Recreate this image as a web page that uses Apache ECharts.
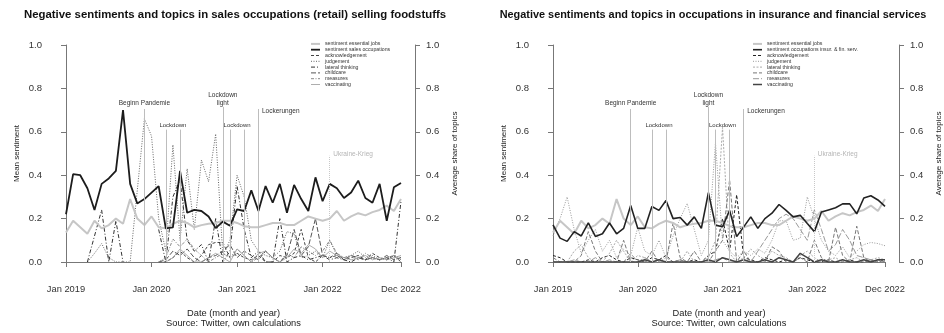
<!DOCTYPE html>
<html>
<head>
<meta charset="utf-8">
<script src="https://cdn.jsdelivr.net/npm/echarts@6/dist/echarts.min.js"></script>
<style>
html, body { margin: 0; padding: 0; background: #fff; }
#chart { width: 944px; height: 333px; }
</style>
</head>
<body>
<div id="chart"></div>
<script>
// Monthly observations, January 2019 to December 2022 (index 0 = Jan 2019)
const months = [
  '2019-01','2019-02','2019-03','2019-04','2019-05','2019-06','2019-07','2019-08','2019-09','2019-10','2019-11','2019-12',
  '2020-01','2020-02','2020-03','2020-04','2020-05','2020-06','2020-07','2020-08','2020-09','2020-10','2020-11','2020-12',
  '2021-01','2021-02','2021-03','2021-04','2021-05','2021-06','2021-07','2021-08','2021-09','2021-10','2021-11','2021-12',
  '2022-01','2022-02','2022-03','2022-04','2022-05','2022-06','2022-07','2022-08','2022-09','2022-10','2022-11','2022-12'
];
const tickMonths = [0, 12, 24, 36, 47];
const tickLabels = ['Jan 2019', 'Jan 2020', 'Jan 2021', 'Jan 2022', 'Dec 2022'];

// Mean sentiment of all essential jobs (shown in both panels)
const essentialJobs = [
  0.136,0.19,0.16,0.13,0.19,0.155,0.17,0.2,0.176,0.29,0.2,0.17,
  0.21,0.16,0.155,0.176,0.19,0.18,0.16,0.17,0.176,0.18,0.19,0.19,
  0.18,0.165,0.16,0.16,0.17,0.18,0.18,0.17,0.17,0.19,0.21,0.2,
  0.19,0.2,0.235,0.19,0.21,0.225,0.215,0.23,0.24,0.26,0.235,0.29
];

// Panel 1: sales occupations (retail) selling foodstuffs
const salesSentiment = [
  0.22,0.405,0.40,0.34,0.24,0.36,0.385,0.42,0.70,0.36,0.27,0.29,
  0.32,0.35,0.155,0.16,0.42,0.227,0.24,0.235,0.21,0.156,0.186,0.167,
  0.242,0.235,0.33,0.235,0.35,0.273,0.36,0.227,0.355,0.29,0.235,0.39,
  0.28,0.36,0.34,0.295,0.32,0.375,0.295,0.273,0.36,0.19,0.344,0.364
];
const salesAcknowledgement = [
  null,null,null,null,null,null,null,null,null,null,null,null,
  null,0.0,0.0,0.02,0.05,0.02,0.0,0.03,0.08,0.09,0.09,0.02,
  0.04,0.02,0.01,0.03,0.0,0.0,0.03,0.02,0.04,0.15,0.02,0.0,
  0.03,0.02,0.03,0.01,0.02,0.03,0.01,0.04,0.02,0.01,0.03,0.0
];
const salesJudgement = [
  null,null,null,0.0,0.04,0.085,0.02,0.0,0.0,0.0,0.33,0.66,
  0.58,0.2,0.05,0.54,0.1,0.43,0.15,0.47,0.37,0.59,0.03,0.1,
  0.4,0.3,0.1,0.05,0.03,0.02,0.05,0.14,0.13,0.02,0.03,0.05,
  0.02,0.1,0.03,0.02,0.03,0.05,0.02,0.03,0.01,0.02,0.03,0.02
];
const salesLateral = [
  null,null,null,0.0,0.12,0.24,0.0,0.19,0.0,null,null,null,
  null,0.15,0.0,0.3,0.38,0.1,0.05,0.08,0.0,0.2,0.0,0.05,
  0.35,0.15,0.02,0.05,0.0,0.0,0.2,0.0,0.02,0.03,0.01,0.02,
  0.03,0.01,0.02,0.01,0.0,0.02,0.01,0.02,0.01,0.02,0.0,0.28
];
const salesChildcare = [
  null,null,null,null,null,null,null,null,null,null,null,null,
  null,0.0,0.01,0.05,0.03,0.06,0.02,0.0,0.02,0.03,0.05,0.08,
  0.02,0.05,0.03,0.01,0.05,0.02,0.0,0.03,0.15,0.03,0.07,0.2,
  0.03,0.02,0.04,0.01,0.03,0.02,0.01,0.02,0.01,0.03,0.01,0.02
];
const salesMeasures = [
  null,null,null,null,null,null,null,null,null,null,null,null,
  null,0.0,0.02,0.106,0.07,0.106,0.06,0.03,0.0,0.02,0.04,0.02,
  0.06,0.03,0.0,0.02,0.05,0.02,0.0,0.04,0.02,0.07,0.05,0.03,
  0.05,0.1,0.04,0.02,0.03,0.01,0.04,0.02,0.01,0.02,0.03,0.01
];
const salesVaccinating = [
  null,null,null,null,null,null,null,null,null,null,null,null,
  null,null,0.0,0.02,0.06,0.03,0.0,0.0,0.02,0.04,0.02,0.0,
  0.06,0.03,0.0,0.04,0.05,0.02,0.0,0.02,0.06,0.04,0.08,0.06,
  0.02,0.05,0.03,0.02,0.01,0.02,0.03,0.01,0.02,0.01,0.02,0.03
];

// Panel 2: occupations in insurance and financial services
const insurSentiment = [
  0.171,0.11,0.095,0.14,0.12,0.18,0.118,0.13,0.18,0.13,0.155,0.26,
  0.155,0.155,0.256,0.238,0.283,0.2,0.205,0.17,0.208,0.155,0.32,0.17,
  0.162,0.238,0.117,0.162,0.208,0.155,0.2,0.225,0.265,0.238,0.208,0.215,
  0.177,0.14,0.23,0.24,0.25,0.268,0.268,0.222,0.295,0.305,0.286,0.256
];
const insurAcknowledgement = [
  0.03,0.02,0.0,0.0,0.0,0.01,0.0,0.02,0.03,0.01,0.0,0.02,
  0.01,0.0,0.02,0.01,0.03,0.0,0.01,0.0,0.01,0.0,0.03,0.05,
  0.2,0.05,0.31,0.02,0.01,0.0,0.02,0.01,0.0,0.01,0.0,0.02,
  0.01,0.0,0.0,0.01,0.0,0.0,0.01,0.0,0.0,0.01,0.0,0.01
];
const insurJudgement = [
  0.12,0.2,0.3,0.15,0.04,0.1,0.15,0.05,0.1,0.02,0.06,0.03,
  0.16,0.05,0.03,0.1,0.02,0.12,0.2,0.27,0.15,0.03,0.1,0.55,
  0.1,0.05,0.02,0.05,0.03,0.06,0.04,0.1,0.19,0.19,0.1,0.11,
  0.3,0.2,0.1,0.05,0.03,0.07,0.02,0.05,0.08,0.09,0.085,0.075
];
const insurLateral = [
  0.0,0.0,0.0,0.05,0.08,0.02,0.0,0.0,0.04,0.1,0.05,0.0,
  0.03,0.02,0.0,0.0,0.02,0.0,0.0,0.05,0.0,0.0,0.02,0.1,
  0.62,0.04,0.0,0.02,0.06,0.03,0.01,0.05,0.03,0.02,0.0,0.03,
  0.05,0.02,0.0,0.01,0.02,0.0,0.01,0.02,0.0,0.01,0.02,0.01
];
const insurChildcare = [
  0.02,0.0,0.0,0.0,0.03,0.14,0.05,0.0,0.0,0.0,0.1,0.0,
  0.0,0.0,0.05,0.0,0.0,0.18,0.02,0.0,0.05,0.0,0.0,0.05,
  0.1,0.38,0.0,0.05,0.0,0.0,0.0,0.07,0.05,0.0,0.0,0.02,
  0.0,0.1,0.02,0.0,0.16,0.03,0.0,0.165,0.02,0.0,0.01,0.0
];
const insurMeasures = [
  0.0,0.0,0.0,0.01,0.0,0.0,0.02,0.0,0.01,0.0,0.0,0.04,
  0.0,0.02,0.0,0.0,0.0,0.0,0.01,0.0,0.0,0.0,0.0,0.01,
  0.02,0.0,0.0,0.0,0.0,0.05,0.1,0.15,0.2,0.22,0.2,0.15,
  0.1,0.24,0.15,0.05,0.08,0.15,0.1,0.03,0.02,0.01,0.0,0.0
];
const insurVaccinating = [
  0.0,0.0,0.0,0.0,0.0,0.0,0.0,0.0,0.0,0.0,0.0,0.0,
  0.0,0.01,0.0,0.01,0.0,0.0,0.0,0.0,0.0,0.0,0.01,0.0,
  0.02,0.01,0.0,0.01,0.0,0.0,0.01,0.0,0.02,0.01,0.0,0.04,
  0.02,0.0,0.01,0.0,0.0,0.01,0.0,0.0,0.01,0.0,0.01,0.01
];

// Events (month index) and their captions
const eventMonths = [11, 14, 16, 22, 23, 25, 27, 37];
const eventCaptions = ['Beginn Pandemie', 'Lockdown', 'Lockdown\nlight', 'Lockdown', 'Lockerungen', 'Ukraine-Krieg'];
const captionMonths = [11, 15, 22, 24, 27, 37];

const panelTitles = [
  'Negative sentiments and topics in sales occupations (retail) selling foodstuffs',
  'Negative sentiments and topics in occupations in insurance and financial services'
];
const topicNames = ['acknowledgement', 'judgement', 'lateral thinking', 'childcare', 'measures', 'vaccinating'];
const panelSeriesNames = [
  ['sentiment essential jobs', 'sentiment sales occupations'].concat(topicNames),
  ['sentiment essential jobs', 'sentiment occupations insur. & fin. serv.'].concat(topicNames)
];
const panelValues = [
  [essentialJobs, salesSentiment, salesAcknowledgement, salesJudgement, salesLateral, salesChildcare, salesMeasures, salesVaccinating],
  [essentialJobs, insurSentiment, insurAcknowledgement, insurJudgement, insurLateral, insurChildcare, insurMeasures, insurVaccinating]
];

// ---- styling ----
const FONT = '"Liberation Sans", Arial, sans-serif';
const AXIS = '#777';
const lineStyles = [
  [
    { color: '#c6c6c6', width: 2, type: 'solid' },
    { color: '#1c1c1c', width: 1.8, type: 'solid' },
    { color: '#444', width: 1, type: [3, 2] },
    { color: '#666', width: 1, type: [1, 1.5] },
    { color: '#333', width: 1, type: [4, 2, 1, 2] },
    { color: '#555', width: 1, type: [5, 2] },
    { color: '#888', width: 1, type: [3, 1.5, 1, 1.5] },
    { color: '#999', width: 0.8, type: 'solid' }
  ],
  [
    { color: '#c6c6c6', width: 2, type: 'solid' },
    { color: '#222', width: 1.6, type: 'solid' },
    { color: '#222', width: 1, type: [3, 2] },
    { color: '#9a9a9a', width: 1, type: [1, 1.5] },
    { color: '#aaa', width: 1, type: [2, 1.5] },
    { color: '#777', width: 1, type: [4, 2] },
    { color: '#999', width: 1, type: [6, 2] },
    { color: '#444', width: 1.5, type: 'solid' }
  ]
];
const gridBoxes = [
  { left: 66, right: 543, top: 45, bottom: 68 },
  { left: 553, right: 56, top: 45, bottom: 68 }
];
const titleCenters = [235, 713];
const titleSizes = [11.4, 10.9];
const legendLefts = [310, 752];
// heights (in data units) where event lines end and captions sit
const lineTops = [0.705, 0.61, 0.61, 0.715, 0.61, 0.61, 0.705, 0.49];
const captionLayout = [
  { y: 0.732, position: 'inside' },
  { y: 0.632, position: 'inside' },
  { y: 0.75, position: 'inside' },
  { y: 0.632, position: 'inside' },
  { y: 0.695, position: 'right' },
  { y: 0.495, position: 'right' }
];

const xAxes = [], yAxes = [], series = [], legends = [], graphics = [];

for (let p = 0; p < 2; p++) {
  xAxes.push({
    type: 'value', gridIndex: p, min: 0, max: 47, offset: 12,
    axisLine: { show: true, lineStyle: { color: AXIS, width: 1 } },
    axisTick: { show: true, length: 5, customValues: tickMonths, lineStyle: { color: AXIS } },
    axisLabel: {
      customValues: tickMonths, margin: 11, fontSize: 9.3, color: '#333', fontFamily: FONT,
      formatter: v => tickLabels[tickMonths.indexOf(v)]
    },
    splitLine: { show: false },
    name: 'Date (month and year)\nSource: Twitter, own calculations',
    nameLocation: 'middle', nameGap: 35,
    nameTextStyle: { fontSize: 9.3, lineHeight: 9.5, color: '#222', fontFamily: FONT }
  });
  const yCommon = {
    type: 'value', gridIndex: p, min: 0, max: 1, interval: 0.2, offset: 14,
    axisLine: { show: true, lineStyle: { color: AXIS, width: 1 } },
    axisTick: { show: true, length: 5, lineStyle: { color: AXIS } },
    splitLine: { show: false },
    nameLocation: 'middle', nameRotate: 90
  };
  yAxes.push(Object.assign({}, yCommon, {
    position: 'left',
    axisLabel: { formatter: v => v.toFixed(1), margin: 10, fontSize: 9.5, color: '#333', fontFamily: FONT },
    name: 'Mean sentiment', nameGap: 31,
    nameTextStyle: { fontSize: 8, color: '#222', fontFamily: FONT }
  }));
  yAxes.push(Object.assign({}, yCommon, {
    position: 'right',
    axisLabel: { formatter: v => v.toFixed(1), margin: 11, fontSize: 9.5, color: '#333', fontFamily: FONT },
    name: 'Average share of topics', nameGap: 36,
    nameTextStyle: { fontSize: 8, color: '#222', fontFamily: FONT }
  }));

  // event markers
  series.push({
    type: 'line', name: 'events', xAxisIndex: p, yAxisIndex: p * 2, data: [],
    silent: true, z: 1,
    markLine: {
      silent: true, symbol: ['none', 'none'], label: { show: false },
      lineStyle: { color: '#bdbdbd', width: 1, type: 'solid' },
      data: eventMonths.map((m, k) => {
        const seg = [{ coord: [m, 0] }, { coord: [m, lineTops[k]] }];
        if (m === 37) seg[0].lineStyle = { color: '#c8c8c8', type: [1, 1], width: 1 };
        return seg;
      })
    },
    markPoint: {
      silent: true, symbol: 'circle', symbolSize: 1,
      itemStyle: { color: 'rgba(0,0,0,0)' },
      label: { show: true, formatter: '{b}', fontSize: 6.5, lineHeight: 8, color: '#333', fontFamily: FONT },
      data: eventCaptions.map((c, k) => ({
        name: c,
        coord: [captionMonths[k], captionLayout[k].y],
        label: {
          position: captionLayout[k].position, distance: 3, align: captionLayout[k].position === 'right' ? 'left' : 'center',
          color: c === 'Ukraine-Krieg' ? '#b5b5b5' : '#333',
          fontSize: c === 'Lockdown' ? 6 : 6.5
        }
      }))
    }
  });

  const names = panelSeriesNames[p];
  panelValues[p].forEach((vals, k) => {
    series.push({
      type: 'line', name: names[k], xAxisIndex: p, yAxisIndex: k < 2 ? p * 2 : p * 2 + 1,
      data: vals.map((v, i) => [i, v]),
      symbol: 'none', connectNulls: false, silent: true,
      z: k < 2 ? 3 + k : 2,
      itemStyle: { color: lineStyles[p][k].color },
      lineStyle: lineStyles[p][k]
    });
  });

  legends.push({
    left: legendLefts[p], top: 41, orient: 'vertical',
    itemWidth: 9, itemHeight: 5.8, itemGap: 0, padding: 0,
    selectedMode: false,
    textStyle: { fontSize: 5.2, lineHeight: 5.8, color: '#333', fontFamily: FONT },
    data: names.map((n, k) => ({
      name: n,
      lineStyle: lineStyles[p][k],
      itemStyle: { color: 'rgba(0,0,0,0)', borderWidth: 0, opacity: 0 }
    }))
  });

  graphics.push({
    type: 'text', x: titleCenters[p], y: 15,
    style: {
      text: panelTitles[p], textAlign: 'center', textVerticalAlign: 'middle',
      fontSize: titleSizes[p], fontWeight: 'bold', fill: '#111', fontFamily: FONT
    }
  });
}

const chart = echarts.init(document.getElementById('chart'), null, { renderer: 'canvas' });
chart.setOption({
  animation: false,
  backgroundColor: '#fff',
  grid: gridBoxes,
  xAxis: xAxes,
  yAxis: yAxes,
  legend: legends,
  graphic: graphics,
  series: series
});
</script>
</body>
</html>
